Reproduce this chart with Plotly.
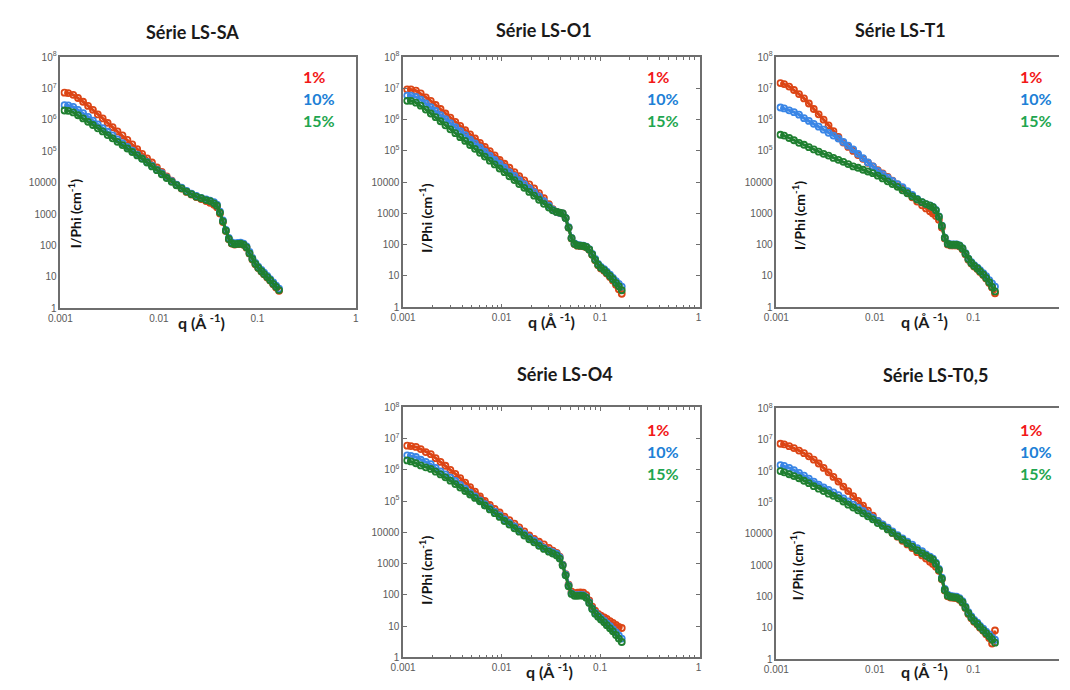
import plotly.graph_objects as go

# ---------------- data ----------------
Q = [0.0011, 0.0012, 0.00135, 0.00151, 0.0017, 0.00191, 0.00214, 0.0024, 0.00269, 0.00302,
     0.00339, 0.0038, 0.00427, 0.00479, 0.00537, 0.00603, 0.00676, 0.00759, 0.00851, 0.00955,
     0.0107, 0.012, 0.0135, 0.0151, 0.017, 0.0191, 0.0214, 0.024, 0.0269, 0.0302,
     0.0331, 0.0363, 0.0389, 0.0417, 0.0447, 0.0479, 0.0513, 0.055, 0.0589, 0.0631,
     0.0676, 0.0724, 0.0776, 0.0832, 0.0891, 0.0955, 0.102, 0.110, 0.117, 0.126,
     0.135, 0.145, 0.155, 0.166]

SA_1 = [7.4e6, 7.2e6, 6.3e6, 5.0e6, 3.8e6, 2.8e6, 2.1e6, 1.5e6, 1.12e6, 8.1e5,
        5.9e5, 4.3e5, 3.2e5, 2.3e5, 1.66e5, 1.17e5, 8.3e4, 6.0e4, 4.4e4, 3.1e4,
        2.2e4, 1.6e4, 1.17e4, 8500, 6500, 5100, 4200, 3500, 3000, 2600,
        2300, 2000, 1660, 1050, 560, 290, 158, 115, 107, 110,
        112, 105, 85, 55, 36, 25, 19, 14.8, 12, 9.5,
        7.6, 5.8, 4.6, 3.6]
SA_10 = [2.95e6, 2.9e6, 2.6e6, 2.1e6, 1.66e6, 1.26e6, 9.5e5, 7.2e5, 5.5e5, 4.2e5,
         3.2e5, 2.4e5, 1.82e5, 1.38e5, 1.05e5, 7.9e4, 6.0e4, 4.6e4, 3.5e4, 2.6e4,
         2.0e4, 1.48e4, 1.12e4, 8700, 6900, 5500, 4500, 3800, 3300, 2950,
         2700, 2400, 2000, 1200, 630, 316, 174, 126, 117, 120,
         123, 115, 93, 62, 40, 28, 21, 16.6, 13.5, 10.7,
         8.5, 6.6, 5.2, 4.2]
SA_15 = [2.0e6, 1.95e6, 1.74e6, 1.41e6, 1.12e6, 8.7e5, 6.9e5, 5.4e5, 4.3e5, 3.3e5,
         2.6e5, 2.0e5, 1.58e5, 1.23e5, 9.5e4, 7.4e4, 5.8e4, 4.4e4, 3.3e4, 2.5e4,
         1.86e4, 1.41e4, 1.07e4, 8300, 6600, 5200, 4300, 3600, 3200, 2800,
         2600, 2200, 1860, 1120, 590, 295, 162, 117, 110, 112,
         115, 107, 87, 56, 37, 26, 19.5, 15.1, 12.3, 9.8,
         7.8, 6.0, 4.8, 3.8]

O1_1 = [9.3e6, 9.3e6, 8.5e6, 6.9e6, 5.2e6, 4.0e6, 2.95e6, 2.2e6, 1.58e6, 1.17e6,
        8.5e5, 6.3e5, 4.6e5, 3.4e5, 2.5e5, 1.82e5, 1.35e5, 9.8e4, 7.2e4, 5.2e4,
        3.9e4, 2.9e4, 2.1e4, 1.55e4, 1.15e4, 8500, 6300, 4500, 3100, 2000,
        1380, 1120, 1050, 1000, 710, 355, 158, 105, 93, 91,
        89, 83, 69, 48, 32, 22, 17.4, 14.8, 12, 9.3,
        7.2, 5.2, 3.8, 2.7]
O1_10 = [5.9e6, 5.9e6, 5.4e6, 4.4e6, 3.3e6, 2.5e6, 1.9e6, 1.41e6, 1.05e6, 7.8e5,
         5.8e5, 4.3e5, 3.2e5, 2.3e5, 1.74e5, 1.29e5, 9.5e4, 7.1e4, 5.2e4, 3.9e4,
         2.9e4, 2.1e4, 1.58e4, 1.17e4, 8700, 6500, 4800, 3500, 2500, 1780,
         1320, 1120, 1050, 1000, 720, 363, 166, 110, 98, 95,
         93, 87, 72, 51, 35, 24.5, 19.5, 16.6, 13.8, 11,
         8.7, 6.9, 5.6, 4.6]
O1_15 = [4.0e6, 4.0e6, 3.5e6, 2.8e6, 2.1e6, 1.58e6, 1.2e6, 8.9e5, 6.6e5, 4.9e5,
         3.7e5, 2.75e5, 2.1e5, 1.55e5, 1.17e5, 8.7e4, 6.6e4, 4.9e4, 3.7e4, 2.75e4,
         2.1e4, 1.55e4, 1.17e4, 8700, 6600, 4900, 3700, 2750, 2040, 1550,
         1260, 1120, 1070, 1000, 710, 355, 162, 107, 95, 93,
         91, 85, 71, 49, 33, 23, 18.2, 15.5, 12.6, 10,
         7.9, 6.0, 4.7, 3.5]

T1_1 = [1.48e7, 1.38e7, 1.15e7, 8.9e6, 6.6e6, 4.8e6, 3.3e6, 2.2e6, 1.48e6, 1.0e6,
        6.6e5, 4.3e5, 2.8e5, 1.86e5, 1.35e5, 1.0e5, 7.4e4, 5.6e4, 4.2e4, 3.2e4,
        2.45e4, 1.9e4, 1.48e4, 1.12e4, 8500, 6300, 4600, 3300, 2400, 1820,
        1450, 1170, 1000, 830, 630, 355, 158, 102, 95, 95,
        95, 89, 72, 50, 33, 25, 20, 16.6, 13.5, 10.7,
        8.3, 6.0, 4.3, 2.8]
T1_10 = [2.45e6, 2.3e6, 2.0e6, 1.74e6, 1.45e6, 1.12e6, 9.1e5, 7.4e5, 6.0e5, 4.8e5,
         3.8e5, 3.1e5, 2.5e5, 1.95e5, 1.48e5, 1.12e5, 8.1e4, 5.9e4, 4.3e4, 3.2e4,
         2.3e4, 1.82e4, 1.41e4, 1.1e4, 8700, 6900, 5200, 3900, 2900, 2300,
         2000, 1820, 1620, 1290, 810, 410, 170, 110, 102, 102,
         102, 95, 78, 54, 36, 27.5, 22.4, 18.6, 15.5, 12.3,
         9.8, 7.4, 5.8, 4.6]
T1_15 = [3.3e5, 3.1e5, 2.6e5, 2.2e5, 1.82e5, 1.58e5, 1.32e5, 1.12e5, 9.5e4, 8.1e4,
         7.1e4, 6.0e4, 5.2e4, 4.5e4, 3.8e4, 3.2e4, 2.9e4, 2.5e4, 2.2e4, 1.95e4,
         1.62e4, 1.32e4, 1.07e4, 8700, 7100, 5500, 4400, 3500, 2800, 2300,
         2000, 1780, 1580, 1260, 790, 400, 166, 107, 100, 100,
         100, 93, 76, 52, 35, 26, 21, 17.4, 14.1, 11.2,
         8.7, 6.3, 4.5, 3.2]

O4_1 = [5.9e6, 5.75e6, 5.4e6, 4.6e6, 3.7e6, 3.16e6, 2.35e6, 1.78e6, 1.35e6, 1.0e6,
        7.4e5, 5.4e5, 3.9e5, 2.8e5, 2.0e5, 1.41e5, 1.02e5, 7.6e4, 5.6e4, 4.3e4,
        3.2e4, 2.45e4, 1.9e4, 1.45e4, 1.07e4, 7900, 6200, 5000, 4100, 3200,
        2600, 2200, 1660, 930, 460, 210, 126, 112, 117, 120,
        117, 100, 66, 42, 31, 24.5, 21.4, 19, 17, 14.5,
        12.6, 11, 9.5, 8.7]
O4_10 = [2.9e6, 2.8e6, 2.57e6, 2.1e6, 1.78e6, 1.51e6, 1.15e6, 8.9e5, 7.1e5, 5.6e5,
         4.4e5, 3.3e5, 2.5e5, 1.86e5, 1.41e5, 1.05e5, 7.9e4, 6.0e4, 4.6e4, 3.5e4,
         2.6e4, 2.0e4, 1.55e4, 1.17e4, 9100, 6900, 5400, 4200, 3200, 2600,
         2300, 2040, 1580, 910, 440, 200, 112, 98, 98, 100,
         98, 85, 58, 37, 27, 21.4, 17.8, 14.8, 12.3, 10,
         7.9, 6.3, 5.0, 4.0]
O4_15 = [2.0e6, 1.86e6, 1.62e6, 1.38e6, 1.2e6, 1.07e6, 8.7e5, 7.1e5, 5.75e5, 4.5e5,
         3.5e5, 2.7e5, 2.1e5, 1.62e5, 1.26e5, 9.8e4, 7.2e4, 5.4e4, 4.1e4, 3.1e4,
         2.3e4, 1.78e4, 1.35e4, 1.05e4, 7900, 6000, 4800, 3700, 2950, 2400,
         2100, 1820, 1450, 870, 420, 190, 107, 93, 93, 95,
         93, 81, 55, 35.5, 25, 20, 16.2, 13.2, 10.7, 8.5,
         6.8, 5.2, 4.0, 3.1]

T05_1 = [7.4e6, 7.1e6, 6.2e6, 5.4e6, 4.5e6, 3.7e6, 2.95e6, 2.3e6, 1.74e6, 1.26e6,
         9.1e5, 6.5e5, 4.6e5, 3.2e5, 2.3e5, 1.58e5, 1.12e5, 7.9e4, 5.5e4, 3.8e4,
         2.6e4, 1.95e4, 1.45e4, 1.07e4, 8100, 6000, 4600, 3500, 2600, 2040,
         1620, 1290, 1100, 890, 660, 355, 155, 102, 93, 91,
         89, 79, 63, 43, 28, 20.4, 15.8, 12.9, 10.2, 8.1,
         6.3, 4.8, 3.2, 8.3]
T05_10 = [1.55e6, 1.45e6, 1.26e6, 1.07e6, 8.7e5, 7.1e5, 5.75e5, 4.6e5, 3.7e5, 3.0e5,
          2.5e5, 2.1e5, 1.7e5, 1.35e5, 1.07e5, 8.5e4, 6.8e4, 5.4e4, 4.2e4, 3.3e4,
          2.6e4, 2.0e4, 1.58e4, 1.2e4, 9100, 7100, 5600, 4500, 3500, 2800,
          2200, 1860, 1620, 1200, 760, 400, 174, 115, 105, 102,
          100, 89, 71, 48, 32, 23.4, 18.2, 14.8, 11.7, 9.5,
          7.6, 6.2, 5.0, 4.2]
T05_15 = [1.0e6, 9.1e5, 7.9e5, 6.9e5, 5.9e5, 4.9e5, 4.1e5, 3.3e5, 2.75e5, 2.3e5,
          1.9e5, 1.62e5, 1.35e5, 1.07e5, 8.5e4, 6.9e4, 5.6e4, 4.5e4, 3.6e4, 2.9e4,
          2.2e4, 1.78e4, 1.38e4, 1.07e4, 8300, 6500, 5000, 3900, 3000, 2400,
          2000, 1700, 1510, 1120, 710, 370, 162, 107, 98, 95,
          93, 83, 66, 45, 29.5, 21.4, 16.6, 13.5, 10.7, 8.5,
          6.8, 5.4, 4.3, 3.4]

PANEL_TITLES = ["Série LS-SA", "Série LS-O1", "Série LS-T1", "Série LS-O4", "Série LS-T0,5"]
PANEL_DATA = [
    [SA_1, SA_10, SA_15],
    [O1_1, O1_10, O1_15],
    [T1_1, T1_10, T1_15],
    [O4_1, O4_10, O4_15],
    [T05_1, T05_10, T05_15],
]
SERIES_LABELS = ["1%", "10%", "15%"]
X_TICKS = [0.001, 0.01, 0.1, 1]
X_TICK_TEXT = ["0.001", "0.01", "0.1", "1"]
X_MINOR = [0.002, 0.003, 0.004, 0.005, 0.006, 0.007, 0.008, 0.009,
           0.02, 0.03, 0.04, 0.05, 0.06, 0.07, 0.08, 0.09,
           0.2, 0.3, 0.4, 0.5, 0.6, 0.7, 0.8, 0.9]
Y_TICKS = [1, 10, 100, 1000, 10000, 1e5, 1e6, 1e7, 1e8]
Y_TICK_TEXT = ["1", "10", "100", "1000", "10000", "10<sup>5</sup>", "10<sup>6</sup>",
               "10<sup>7</sup>", "10<sup>8</sup>"]
X_TITLE = "q (Å <sup>-1</sup>)"
Y_TITLE = "I/Phi (cm<sup>-1</sup>)"

# ---------------- styling / layout ----------------
# The page body keeps its default 8px margin, so the figure is sized to
# fit the 1070x690 window exactly and positions are given in window pixels.
VIEW_W, VIEW_H, PAGE_MARGIN = 1070, 690, 8
W, H = VIEW_W - 2 * PAGE_MARGIN, VIEW_H - 2 * PAGE_MARGIN
MARKER_COLORS = ["#DC4515", "#3A86E6", "#1F7F30"]
LABEL_COLORS = ["#F21818", "#2080D6", "#1FA650"]
FRAME = "#6E6E6E"
TICKFONT = dict(family="Liberation Sans, Arial, sans-serif", size=10, color="#595959")
BOLD = "Lato, Carlito, 'Open Sans', sans-serif"

# plot boxes in window pixels: left, right, top, bottom
BOXES = [(48, 348, 51, 307), (396, 697, 51, 306), (775, 1070, 51, 306),
         (396, 697, 408, 663), (775, 1070, 409, 665)]
TITLE_POS = [(182, 25), (539, 23), (901, 23), (560, 374), (937, 375)]
YT_POS = [(62, 211), (418, 215), (797, 213), (418, 574), (795, 570)]
XT_POS = [(191, 321), (547, 320), (925, 320), (545, 676), (925, 676)]
LEG_POS = [(292, 71), (642, 71), (1020, 71), (642, 431), (1020, 431)]
LEG_DY = [0, 22.5, 45]
TICKED = [False, True, False, True, False]


def px(x):
    return min(1.0, (x - PAGE_MARGIN) / W)


def py(y):
    return 1 - (y - PAGE_MARGIN) / H


fig = go.Figure()
layout = dict(width=W, height=H, margin=dict(l=0, r=0, t=0, b=0),
              paper_bgcolor="white", plot_bgcolor="white", showlegend=False)
annotations = []

for i, (title, series) in enumerate(zip(PANEL_TITLES, PANEL_DATA)):
    n = i + 1
    xa = "xaxis" if n == 1 else f"xaxis{n}"
    ya = "yaxis" if n == 1 else f"yaxis{n}"
    xr = "x" if n == 1 else f"x{n}"
    yr = "y" if n == 1 else f"y{n}"
    l, r, t, b = BOXES[i]
    r_eff = min(r, VIEW_W - PAGE_MARGIN)
    xmax = -3 + (r_eff - l) / 100.0
    cut = r_eff < r
    for j, vals in enumerate(series):
        fig.add_trace(go.Scatter(
            x=Q, y=vals, mode="lines+markers", xaxis=xr, yaxis=yr,
            line=dict(width=3, color=MARKER_COLORS[j]),
            marker=dict(symbol="circle-open", size=6, color=MARKER_COLORS[j],
                        line=dict(width=1.8, color=MARKER_COLORS[j])),
            hoverinfo="skip", name=SERIES_LABELS[j]))
    xdict = dict(type="log", range=[-3, xmax], domain=[px(l), px(r_eff)], anchor=yr,
                 tickvals=X_TICKS, ticktext=X_TICK_TEXT, tickfont=TICKFONT,
                 showgrid=False, zeroline=False, showline=True, linecolor=FRAME,
                 linewidth=1.5, mirror=True, ticks="", fixedrange=True)
    ydict = dict(type="log", range=[0, 8], domain=[py(b), py(t)], anchor=xr,
                 tickvals=Y_TICKS, ticktext=Y_TICK_TEXT, tickfont=TICKFONT,
                 showgrid=False, zeroline=False, showline=True, linecolor=FRAME,
                 linewidth=1.5, mirror=not cut, ticks="", fixedrange=True)
    if TICKED[i]:
        xdict.update(ticks="inside", ticklen=4, tickcolor=FRAME, mirror="ticks",
                     minor=dict(tickvals=X_MINOR, ticks="inside", ticklen=3,
                                tickcolor=FRAME, showgrid=False))
        ydict.update(ticks="inside", ticklen=4, tickcolor=FRAME, mirror="ticks")
    layout[xa] = xdict
    layout[ya] = ydict

    annotations.append(dict(text=f"<b>{title}</b>", x=px(TITLE_POS[i][0]), y=py(TITLE_POS[i][1]),
                            xref="paper", yref="paper", showarrow=False, xanchor="center",
                            yanchor="middle", font=dict(family=BOLD, size=18, color="#1A1A1A")))
    annotations.append(dict(text=f"<b>{Y_TITLE}</b>", x=px(YT_POS[i][0]), y=py(YT_POS[i][1]),
                            xref="paper", yref="paper", showarrow=False, textangle=-90,
                            xanchor="center", yanchor="middle",
                            font=dict(family=BOLD, size=14, color="#111111")))
    annotations.append(dict(text=f"<b>{X_TITLE}</b>", x=px(XT_POS[i][0]), y=py(XT_POS[i][1]),
                            xref="paper", yref="paper", showarrow=False, xanchor="center",
                            yanchor="middle", font=dict(family=BOLD, size=16, color="#1A1A1A")))
    for j, lab in enumerate(SERIES_LABELS):
        annotations.append(dict(text=f"<b>{lab}</b>", x=px(LEG_POS[i][0]),
                                y=py(LEG_POS[i][1] + LEG_DY[j]), xref="paper", yref="paper",
                                showarrow=False, xanchor="left", yanchor="middle",
                                font=dict(family=BOLD, size=16, color=LABEL_COLORS[j])))

layout["annotations"] = annotations
fig.update_layout(**layout)
fig.write_html("out.html")
